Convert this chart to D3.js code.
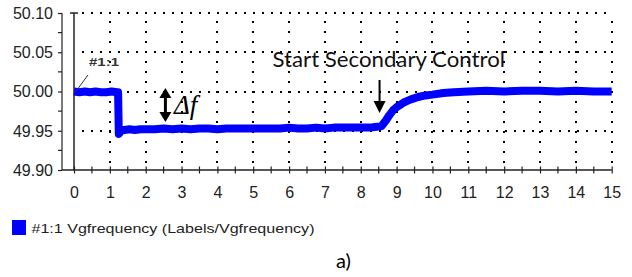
<!DOCTYPE html>
<html>
<head>
<meta charset="utf-8">
<script src="https://cdn.jsdelivr.net/npm/d3@7/dist/d3.min.js"></script>
<style>
  html, body { margin: 0; padding: 0; background: #fff; }
  svg { display: block; }
</style>
</head>
<body>
<svg id="chart" width="632" height="277"></svg>
<script>
// ---- data ----
const time = [0, 0.15, 0.3, 0.45, 0.6, 0.75, 0.9, 1.05, 1.2, 1.23, 1.25, 1.27, 1.3, 1.4, 1.55, 1.7, 1.85,
  2.0, 2.25, 2.5, 2.75, 3.0, 3.25, 3.5, 3.75, 4.0, 4.25, 4.5, 4.75, 5.0, 5.25, 5.5, 5.75, 6.0, 6.25,
  6.5, 6.75, 7.0, 7.25, 7.5, 7.75, 8.0, 8.25, 8.45, 8.58, 8.7, 8.8, 8.9, 9.0, 9.1, 9.2, 9.3, 9.4,
  9.6, 9.8, 10.0, 10.3, 10.6, 11.0, 11.5, 12.0, 12.5, 13.0, 13.5, 14.0, 14.5, 15.0];
const freq = [50.000, 49.999, 50.000, 49.999, 50.000, 49.999, 49.999, 50.000, 49.999, 49.999, 49.946, 49.947, 49.950, 49.951, 49.952, 49.951, 49.952,
  49.952, 49.952, 49.953, 49.952, 49.953, 49.952, 49.953, 49.953, 49.952, 49.953, 49.953, 49.953, 49.953, 49.953, 49.953, 49.953, 49.954, 49.953,
  49.953, 49.954, 49.953, 49.954, 49.954, 49.954, 49.954, 49.954, 49.955, 49.956, 49.963, 49.970, 49.976, 49.980, 49.983, 49.986, 49.988, 49.990,
  49.993, 49.995, 49.996, 49.998, 49.999, 50.000, 50.001, 50.000, 50.001, 50.001, 50.000, 50.001, 50.000, 50.000];

const yTicks = [49.90, 49.95, 50.00, 50.05, 50.10];
const yMinorTicks = [49.925, 49.975, 50.025, 50.075];
const xTicks = [0,1,2,3,4,5,6,7,8,9,10,11,12,13,14,15];
const xMinorTicks = [0.5,1.5,2.5,3.5,4.5,5.5,6.5,7.5,8.5,9.5,10.5,11.5,12.5,13.5,14.5];
const seriesName = "#1:1 Vgfrequency (Labels/Vgfrequency)";
const seriesLabel = "#1:1";
const annotationText = "Start Secondary Control";
const annotationTime = 8.58;
const deltaTime = 2.55;
const caption = "a)";

// ---- layout ----
const svg = d3.select("#chart");
const x = d3.scaleLinear().domain([0, 15]).range([74, 611.7]);
const y = d3.scaleLinear().domain([49.90, 50.10]).range([170, 13]);
const axisX = 62;
const blue = "#0000ff";
const textCol = "#222";
const px = v => Math.round(v);

// grid (dotted)
const grid = svg.append("g");
grid.selectAll(null).data(xTicks.filter(d => d > 0)).join("line")
  .attr("x1", d => px(x(d))).attr("x2", d => px(x(d)))
  .attr("y1", px(y(50.10)) + 8).attr("y2", px(y(49.90)))
  .attr("stroke", "#000").attr("stroke-width", 2).attr("stroke-dasharray", "2,8");
grid.selectAll(null).data(yTicks.filter(d => d > 49.90)).join("line")
  .attr("x1", px(x(0)) + 8).attr("x2", px(x(15)) + 1)
  .attr("y1", d => px(y(d))).attr("y2", d => px(y(d)))
  .attr("stroke", "#000").attr("stroke-width", 2).attr("stroke-dasharray", "2,7");

// y axis
const yAxis = d3.axisLeft(y).tickValues(yTicks).tickSize(4).tickFormat(d3.format(".2f"));
const gy = svg.append("g").attr("transform", `translate(${axisX},0)`).call(yAxis);
gy.select(".domain").attr("stroke", "#222").attr("stroke-width", 1.2).attr("d", `M0,${y(50.10)}V${y(49.90)}`);
gy.selectAll(".tick line").attr("stroke", "#222").attr("stroke-width", 1.2);
gy.selectAll(".tick text").attr("x", -9).attr("dy", "0.34em")
  .attr("font-family", "Liberation Sans, Arial, sans-serif").attr("font-size", 16).attr("fill", textCol);
svg.append("g").selectAll("line").data(yMinorTicks).join("line")
  .attr("x1", axisX - 4).attr("x2", axisX).attr("y1", d => y(d)).attr("y2", d => y(d))
  .attr("stroke", "#222").attr("stroke-width", 1.2);

// x axis
const xAxis = d3.axisBottom(x).tickValues(xTicks).tickSize(3.5).tickFormat(d3.format("d"));
const gx = svg.append("g").attr("transform", `translate(0,${y(49.90)})`).call(xAxis);
gx.select(".domain").attr("stroke", "#222").attr("stroke-width", 1.5).attr("d", `M${axisX},0H${x(15)}`);
gx.selectAll(".tick line").attr("stroke", "#222").attr("stroke-width", 1.2).attr("y1", -3.5).attr("y2", 3.5);
gx.selectAll(".tick text").attr("y", 28).attr("dy", 0)
  .attr("font-family", "Liberation Sans, Arial, sans-serif").attr("font-size", 16).attr("fill", textCol);
svg.append("g").selectAll("line").data(xMinorTicks).join("line")
  .attr("x1", d => x(d)).attr("x2", d => x(d)).attr("y1", y(49.90) - 3.5).attr("y2", y(49.90) + 3.5)
  .attr("stroke", "#222").attr("stroke-width", 1.2);

// vertical line at t = 0 with cap
svg.append("line").attr("x1", x(0)).attr("x2", x(0)).attr("y1", y(50.10)).attr("y2", y(49.90))
  .attr("stroke", "#222").attr("stroke-width", 1.5);
svg.append("line").attr("x1", x(0) - 4).attr("x2", x(0) + 4).attr("y1", y(50.10)).attr("y2", y(50.10))
  .attr("stroke", "#222").attr("stroke-width", 1.5);

// series
const pts = time.map((t, i) => [t, freq[i]]);
const line = d3.line().x(d => x(d[0])).y(d => y(d[1]));
svg.append("path").datum(pts).attr("d", line)
  .attr("fill", "none").attr("stroke", blue).attr("stroke-width", 8).attr("stroke-linejoin", "round");

// series label with leader
svg.append("line").attr("x1", x(0) + 1).attr("y1", y(49.9986)).attr("x2", x(0.39)).attr("y2", y(50.021))
  .attr("stroke", "#333").attr("stroke-width", 1);
svg.append("text").attr("x", 89).attr("y", 66).text(seriesLabel)
  .attr("font-family", "Liberation Sans, Arial, sans-serif").attr("font-size", 11).attr("font-weight", "bold")
  .attr("fill", "#333").attr("textLength", 30).attr("lengthAdjust", "spacingAndGlyphs");

// delta f double arrow
const ax = x(deltaTime);
const arrowTop = 88, arrowBot = 122;
svg.append("line").attr("x1", ax).attr("x2", ax).attr("y1", arrowTop + 8).attr("y2", arrowBot - 8)
  .attr("stroke", "#000").attr("stroke-width", 3);
svg.append("path").attr("d", `M${ax},${arrowTop}L${ax - 6},${arrowTop + 10}L${ax + 6},${arrowTop + 10}Z`).attr("fill", "#000");
svg.append("path").attr("d", `M${ax},${arrowBot}L${ax - 6},${arrowBot - 10}L${ax + 6},${arrowBot - 10}Z`).attr("fill", "#000");
svg.append("text").attr("x", 174).attr("y", 114).text("Δf")
  .attr("font-family", "Liberation Serif, Times New Roman, serif").attr("font-style", "italic")
  .attr("font-size", 27).attr("fill", "#000");

// start secondary control arrow + text
const sx = x(annotationTime) - 2;
svg.append("line").attr("x1", sx).attr("x2", sx).attr("y1", 80).attr("y2", 104)
  .attr("stroke", "#000").attr("stroke-width", 2);
svg.append("path").attr("d", `M${sx},113L${sx - 6},101L${sx + 6},101Z`).attr("fill", "#000");
svg.append("text").attr("x", 272.5).attr("y", 67).text(annotationText)
  .attr("font-family", "Lato, Open Sans, sans-serif").attr("font-size", 21.5).attr("fill", "#111")
  .attr("textLength", 232.5).attr("lengthAdjust", "spacingAndGlyphs");

// legend
svg.append("rect").attr("x", 12).attr("y", 220).attr("width", 14).attr("height", 15).attr("fill", blue);
svg.append("text").attr("x", 31.5).attr("y", 233).text(seriesName)
  .attr("font-family", "Liberation Sans, Arial, sans-serif").attr("font-size", 13.5).attr("fill", "#222")
  .attr("textLength", 283).attr("lengthAdjust", "spacingAndGlyphs");

// caption
svg.append("text").attr("x", 336).attr("y", 268).text(caption)
  .attr("font-family", "Lato, Open Sans, sans-serif").attr("font-size", 20).attr("fill", "#000");
</script>
</body>
</html>
